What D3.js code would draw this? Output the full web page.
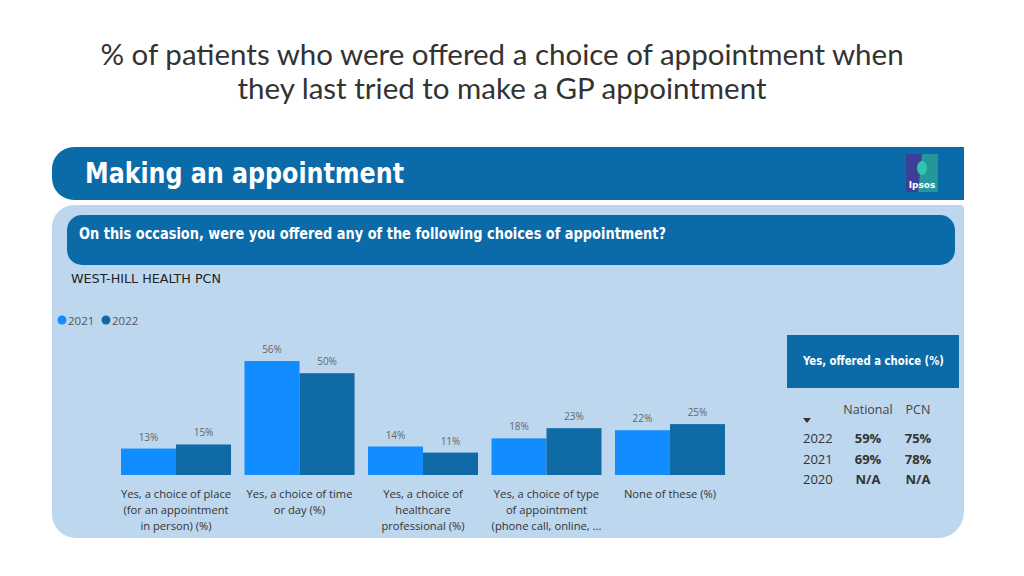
<!DOCTYPE html>
<html><head><meta charset="utf-8">
<script src="https://cdn.jsdelivr.net/npm/d3@7"></script>
<style>html,body{margin:0;padding:0;background:#fff;}svg{display:block;}</style>
</head><body>
<svg id="c" width="1024" height="576"></svg>
<script>
const categories = [
  ["Yes, a choice of place", "(for an appointment", "in person) (%)"],
  ["Yes, a choice of time", "or day (%)"],
  ["Yes, a choice of", "healthcare", "professional (%)"],
  ["Yes, a choice of type", "of appointment", "(phone call, online, ..."],
  ["None of these (%)"]
];
const seriesNames = ["2021", "2022"];
const values2021 = [13, 56, 14, 18, 22];
const values2022 = [15, 50, 11, 23, 25];
const tableYears = ["2022", "2021", "2020"];
const tableNational = ["59%", "69%", "N/A"];
const tablePCN = ["75%", "78%", "N/A"];

const svg = d3.select("#c");
const C1 = "#118dff", C2 = "#0f6aa6", HEAD = "#0b6aa8", PANEL = "#bdd7ee";
const COND = "'DejaVu Sans Condensed', 'Liberation Sans Narrow', sans-serif";

// Title
[["% of patients who were offered a choice of appointment when", 65],
 ["they last tried to make a GP appointment", 99]].forEach(t => {
  svg.append("text").attr("x", 502).attr("y", t[1]).attr("text-anchor", "middle")
    .attr("font-family", "Lato, 'Open Sans', sans-serif").attr("font-size", 29.5).attr("fill", "#333")
    .text(t[0]);
});

// header bar with rounded left corners
function roundedLeft(x, y, w, h, r) {
  return `M${x + r},${y} H${x + w} V${y + h} H${x + r} A${r},${r} 0 0 1 ${x},${y + h - r} V${y + r} A${r},${r} 0 0 1 ${x + r},${y} Z`;
}
svg.append("path").attr("d", roundedLeft(52, 147, 912, 53, 22)).attr("fill", HEAD);
svg.append("text").attr("x", 85).attr("y", 183)
  .attr("font-family", COND).attr("font-weight", "bold").attr("font-size", 29).attr("fill", "#fff")
  .attr("textLength", 319).attr("lengthAdjust", "spacingAndGlyphs")
  .text("Making an appointment");

// Ipsos logo
const lg = svg.append("g");
lg.append("rect").attr("x", 906).attr("y", 154).attr("width", 32).attr("height", 38).attr("fill", "#3c3f95");
lg.append("path").attr("d", "M922,154 H938 V192 H918 Z").attr("fill", "#1fa79a").attr("opacity", 0.85);
lg.append("ellipse").attr("cx", 922).attr("cy", 168).attr("rx", 5).attr("ry", 7).attr("fill", "#2ec4b0");
lg.append("text").attr("x", 922).attr("y", 188).attr("text-anchor", "middle")
  .attr("font-family", "'DejaVu Sans', sans-serif").attr("font-weight", "bold").attr("font-size", 9).attr("fill", "#fff").text("Ipsos");

// panel
function roundedAll(x, y, w, h, tl, tr, br, bl) {
  return `M${x + tl},${y} H${x + w - tr} A${tr},${tr} 0 0 1 ${x + w},${y + tr} V${y + h - br} A${br},${br} 0 0 1 ${x + w - br},${y + h} H${x + bl} A${bl},${bl} 0 0 1 ${x},${y + h - bl} V${y + tl} A${tl},${tl} 0 0 1 ${x + tl},${y} Z`;
}
svg.append("path").attr("d", roundedAll(52, 205, 912, 333, 22, 4, 26, 24)).attr("fill", PANEL);

// inner question bar
svg.append("rect").attr("x", 67).attr("y", 215).attr("width", 888).attr("height", 50).attr("rx", 15).attr("fill", HEAD);
svg.append("text").attr("x", 79).attr("y", 238.5)
  .attr("font-family", COND).attr("font-weight", "bold").attr("font-size", 15.5).attr("fill", "#fff")
  .attr("textLength", 587).attr("lengthAdjust", "spacingAndGlyphs")
  .text("On this occasion, were you offered any of the following choices of appointment?");

svg.append("text").attr("x", 71).attr("y", 282.5)
  .attr("font-family", COND).attr("font-size", 12.5).attr("fill", "#222")
  .attr("textLength", 150).attr("lengthAdjust", "spacingAndGlyphs")
  .text("WEST-HILL HEALTH PCN");

// legend
const FONT = "'Open Sans', 'Noto Sans', sans-serif";
const legend = svg.append("g");
[[62, C1], [106, C2]].forEach((d, i) => {
  legend.append("circle").attr("cx", d[0]).attr("cy", 320).attr("r", 4.5).attr("fill", d[1]);
  legend.append("text").attr("x", d[0] + 6).attr("y", 324.5).attr("font-family", FONT)
    .attr("font-size", 11.5).attr("fill", "#555").text(seriesNames[i]);
});

// bars
const x0 = d3.scaleBand().domain(d3.range(categories.length)).range([121, 725]).paddingInner(0.109).paddingOuter(0);
const x1 = d3.scaleBand().domain(seriesNames).range([0, x0.bandwidth()]);
const y = d3.scaleLinear().domain([0, 56]).range([475, 361]);
const data = categories.map((c, i) => ({ i, vals: [values2021[i], values2022[i]] }));
const g = svg.append("g");
const grp = g.selectAll("g.grp").data(data).join("g").attr("transform", d => `translate(${x0(d.i)},0)`);
grp.selectAll("rect").data(d => d.vals.map((v, k) => ({ v, k }))).join("rect")
  .attr("x", d => x1(seriesNames[d.k])).attr("width", x1.bandwidth())
  .attr("y", d => y(d.v)).attr("height", d => y(0) - y(d.v))
  .attr("fill", d => d.k === 0 ? C1 : C2);
grp.selectAll("text.lbl").data(d => d.vals.map((v, k) => ({ v, k }))).join("text").attr("class", "lbl")
  .attr("x", d => x1(seriesNames[d.k]) + x1.bandwidth() / 2).attr("y", d => y(d.v) - 8)
  .attr("text-anchor", "middle").attr("font-family", FONT).attr("font-size", 10).attr("fill", "#666")
  .text(d => d.v + "%");
grp.each(function (d) {
  const t = d3.select(this).append("text").attr("text-anchor", "middle").attr("font-family", FONT)
    .attr("font-size", 11.2).attr("fill", "#333");
  categories[d.i].forEach((line, j) => {
    t.append("tspan").attr("x", x0.bandwidth() / 2).attr("y", 498 + j * 16).text(line);
  });
});

// right side box
svg.append("rect").attr("x", 787).attr("y", 335).attr("width", 172).attr("height", 53).attr("fill", HEAD);
svg.append("text").attr("x", 803).attr("y", 365)
  .attr("font-family", COND).attr("font-weight", "bold").attr("font-size", 12.5).attr("fill", "#fff")
  .attr("textLength", 141).attr("lengthAdjust", "spacingAndGlyphs")
  .text("Yes, offered a choice (%)");

const TF = "'Open Sans', 'Noto Sans', sans-serif";
svg.append("text").attr("x", 868).attr("y", 414).attr("text-anchor", "middle").attr("font-family", TF)
  .attr("font-size", 12.5).attr("fill", "#444").text("National");
svg.append("text").attr("x", 918).attr("y", 414).attr("text-anchor", "middle").attr("font-family", TF)
  .attr("font-size", 12.5).attr("fill", "#444").text("PCN");
svg.append("path").attr("d", "M803,418 L811,418 L807,423 Z").attr("fill", "#333");
const rowY = d3.scalePoint().domain(tableYears).range([443, 484]);
tableYears.forEach((yr, i) => {
  svg.append("text").attr("x", 803).attr("y", rowY(yr)).attr("font-family", TF).attr("font-size", 13)
    .attr("fill", "#333").text(yr);
  svg.append("text").attr("x", 868).attr("y", rowY(yr)).attr("text-anchor", "middle").attr("font-family", TF)
    .attr("font-size", 13).attr("font-weight", "bold").attr("fill", "#333").text(tableNational[i]);
  svg.append("text").attr("x", 918).attr("y", rowY(yr)).attr("text-anchor", "middle").attr("font-family", TF)
    .attr("font-size", 13).attr("font-weight", "bold").attr("fill", "#333").text(tablePCN[i]);
});
</script>
</body></html>
